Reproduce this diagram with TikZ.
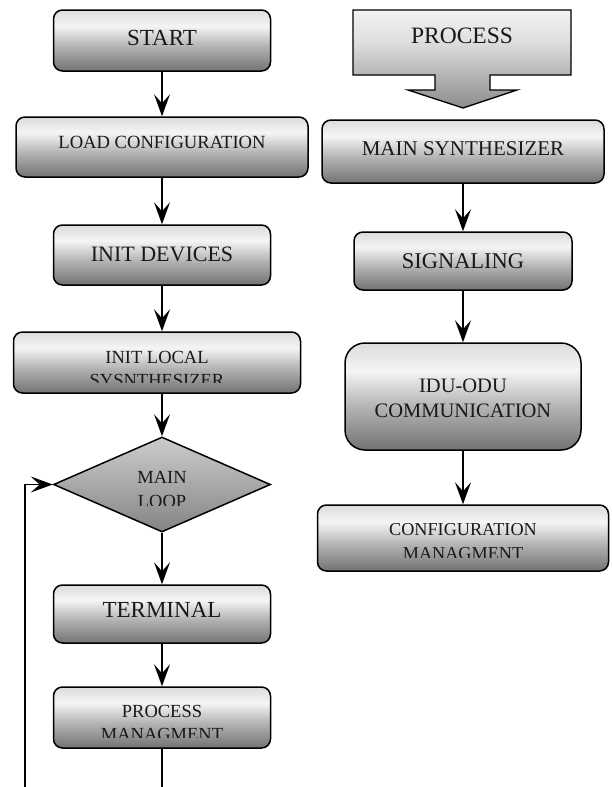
\documentclass[tikz,border=0pt]{standalone}
\usepackage{fontspec}
\setmainfont{Liberation Serif}
\usetikzlibrary{arrows.meta,shapes.geometric}
\pgfdeclareverticalshading{boxshade}{100bp}{color(0bp)=(black!55); color(25bp)=(black!55); color(45bp)=(black!30); color(62bp)=(black!4); color(75bp)=(black!14); color(100bp)=(black!14)}
\pgfdeclareverticalshading{arrshade}{100bp}{color(0bp)=(black!45); color(25bp)=(black!45); color(60bp)=(black!12); color(75bp)=(black!5); color(100bp)=(black!5)}
\pgfdeclareverticalshading{diashade}{100bp}{color(0bp)=(black!48); color(25bp)=(black!48); color(75bp)=(black!20); color(100bp)=(black!20)}
\tikzset{
  box/.style={draw=black, line width=1.5pt, rounded corners=9pt, shading=boxshade, inner sep=0pt},
  lbl/.style={inner sep=0pt, anchor=base, text=black!90},
  arr/.style={draw=black, line width=1.7pt, -{Stealth[length=22pt,width=16pt,inset=9pt]}},
  conn/.style={draw=black, line width=1.7pt},
}
\begin{document}
\begin{tikzpicture}[x=1pt,y=-1pt]
\useasboundingbox (0,0) rectangle (612,787);
% left column
\node[box, minimum width=217pt, minimum height=61pt] (start) at (162,40.5) {};
\node[lbl, font=\fontsize{23}{27}\selectfont] (startT) at (162,45) {START};
\node[box, minimum width=292pt, minimum height=60pt] (load) at (162,147) {};
\node[lbl, font=\fontsize{18.6}{22}\selectfont] (loadT) at (162,148) {LOAD CONFIGURATION};
\node[box, minimum width=217pt, minimum height=60pt] (initdev) at (162,255) {};
\node[lbl, font=\fontsize{22}{26}\selectfont] (initdevT) at (162,261) {INIT DEVICES};
\node[box, minimum width=287pt, minimum height=61pt] (initloc) at (157,362.5) {};
\node[lbl, font=\fontsize{18.5}{22}\selectfont] (initlocT1) at (157,363) {INIT LOCAL};
\begin{scope}
\clip (10,330) rectangle (305,382);
\node[lbl, font=\fontsize{18.5}{22}\selectfont] (initlocT2) at (157,386) {SYSNTHESIZER};
\end{scope}
\node[diamond, draw=black, line width=1.5pt, shading=diashade, minimum width=217pt, minimum height=95pt, inner sep=0pt] (loop) at (162,484.5) {};
\node[lbl, font=\fontsize{18.5}{22}\selectfont] (loopT1) at (162,483) {MAIN};
\begin{scope}
\clip (100,486) rectangle (230,505);
\node[lbl, font=\fontsize{18.5}{22}\selectfont] (loopT2) at (162,507) {LOOP};
\end{scope}
\node[box, minimum width=217pt, minimum height=58pt] (term) at (162,614) {};
\node[lbl, font=\fontsize{23}{27}\selectfont] (termT) at (162,617) {TERMINAL};
\node[box, minimum width=217pt, minimum height=61pt] (procman) at (162,717.5) {};
\node[lbl, font=\fontsize{18.5}{22}\selectfont] (procmanT1) at (162,717) {PROCESS};
\begin{scope}
\clip (50,720) rectangle (275,737);
\node[lbl, font=\fontsize{18.5}{22}\selectfont] (procmanT2) at (162,740) {MANAGMENT};
\end{scope}
\coordinate (bottomL) at (162,787);
\coordinate (loopstart) at (25,787);
% left connectors
\draw[arr] (start.south) -- (load.north);
\draw[arr] (load.south) -- (initdev.north);
\draw[arr] (initloc.south -| initdev.south) -- (loop.north);
\draw[arr] (initdev.south) -- (initloc.north -| initdev.south);
\draw[arr] (loop.south) -- (term.north);
\draw[arr] (term.south) -- (procman.north);
\draw[conn] (procman.south) -- (bottomL);
\draw[arr] (loopstart) |- (loop.west);
% right column
\path[draw=black, line width=1.3pt, shading=arrshade] (353,10) -- (571,10) -- (571,75) -- (490,75) -- (490,90) -- (517,90) -- (463,108) -- (408,90) -- (435,90) -- (435,75) -- (353,75) -- cycle;
\coordinate (proctip) at (463,108);
\node[lbl, font=\fontsize{23.5}{27}\selectfont] (procT) at (462,43) {PROCESS};
\node[box, minimum width=282pt, minimum height=63pt] (mainsyn) at (463,151.5) {};
\node[lbl, font=\fontsize{21}{25}\selectfont] (mainsynT) at (463,155) {MAIN SYNTHESIZER};
\node[box, minimum width=218pt, minimum height=58pt] (signal) at (463,261) {};
\node[lbl, font=\fontsize{22.5}{26}\selectfont] (signalT) at (463,268) {SIGNALING};
\node[box, rounded corners=20pt, minimum width=236pt, minimum height=107pt] (idu) at (463,396.5) {};
\node[lbl, font=\fontsize{20.5}{24}\selectfont] (iduT1) at (463,392) {IDU-ODU};
\node[lbl, font=\fontsize{20.5}{24}\selectfont] (iduT2) at (463,417.5) {COMMUNICATION};
\node[box, minimum width=291pt, minimum height=66pt] (config) at (463,538) {};
\node[lbl, font=\fontsize{18.2}{22}\selectfont] (configT1) at (463,535) {CONFIGURATION};
\begin{scope}
\clip (320,538) rectangle (605,557);
\node[lbl, font=\fontsize{18.2}{22}\selectfont] (configT2) at (463,559) {MANAGMENT};
\end{scope}
\draw[arr] (mainsyn.south) -- (signal.north);
\draw[arr] (signal.south) -- (idu.north);
\draw[arr] (idu.south) -- (config.north);
\end{tikzpicture}
\end{document}
